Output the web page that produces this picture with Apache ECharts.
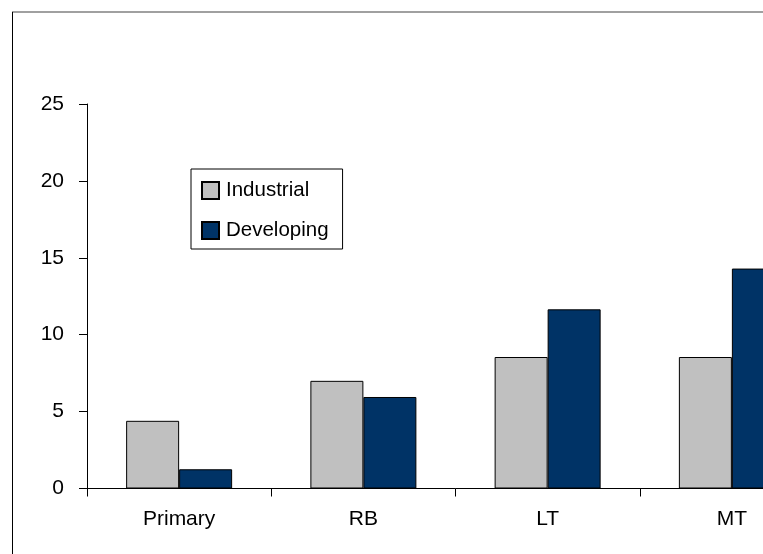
<!DOCTYPE html>
<html>
<head>
<meta charset="utf-8">
<title>Industrial vs Developing</title>
<script src="https://cdn.jsdelivr.net/npm/echarts@6/dist/echarts.min.js"></script>
<style>
  html, body { margin: 0; padding: 0; background: #fff; }
  /* the viewport shows only the left part of a wider drawing, so the last group is cut off */
  #viewport { width: 763px; height: 554px; overflow: hidden; position: relative; }
  #chart { width: 840px; height: 554px; }
</style>
</head>
<body>
<div id="viewport"><div id="chart"></div></div>
<script>
// Categories and series values
var categories = ['Primary', 'RB', 'LT', 'MT'];
var industrial = [4.4, 7.0, 8.55, 8.55];
var developing = [1.25, 5.95, 11.65, 14.3];
var yTicks = { min: 0, max: 25, interval: 5 };

var FONT = "'Liberation Sans', Arial, sans-serif";

var chart = echarts.init(document.getElementById('chart'), null, { renderer: 'canvas' });

chart.setOption({
  animation: false,
  backgroundColor: '#ffffff',
  textStyle: { fontFamily: FONT },
  grid: { left: 87, top: 104, width: 737, height: 384.5, containLabel: false, outerBoundsMode: 'none' },
  legend: {
    orient: 'vertical',
    left: 191,
    top: 169,
    padding: [11, 14, 8, 10],
    itemWidth: 17,
    itemHeight: 17,
    itemGap: 19,
    backgroundColor: '#ffffff',
    borderColor: '#000000',
    borderWidth: 1,
    borderRadius: 0,
    icon: 'rect',
    textStyle: { fontFamily: FONT, fontSize: 20.5, color: '#000', lineHeight: 20, padding: [0, 0, 0, 2] },
    data: ['Industrial', 'Developing']
  },
  xAxis: {
    type: 'category',
    data: categories,
    axisLine: { show: true, lineStyle: { color: '#000', width: 1 } },
    axisTick: { show: true, alignWithLabel: false, length: 8, lineStyle: { color: '#000' } },
    axisLabel: { color: '#000', fontSize: 21, fontFamily: FONT, margin: 20 },
    splitLine: { show: false }
  },
  yAxis: {
    type: 'value',
    min: yTicks.min,
    max: yTicks.max,
    interval: yTicks.interval,
    axisLine: { show: true, lineStyle: { color: '#000', width: 1 } },
    axisTick: { show: true, length: 8, lineStyle: { color: '#000' } },
    axisLabel: { color: '#000', fontSize: 21, fontFamily: FONT, margin: 23 },
    splitLine: { show: false }
  },
  series: [
    {
      name: 'Industrial',
      type: 'bar',
      data: industrial,
      barWidth: 53,
      barGap: '0%',
      itemStyle: { color: '#c0c0c0', borderColor: '#000', borderWidth: 1 }
    },
    {
      name: 'Developing',
      type: 'bar',
      data: developing,
      barWidth: 53,
      barGap: '0%',
      itemStyle: { color: '#003366', borderColor: '#000', borderWidth: 1 }
    }
  ],
  graphic: [
    {
      type: 'line',
      shape: { x1: 12, y1: 12, x2: 840, y2: 12 },
      style: { stroke: '#808080', lineWidth: 1.5 }
    },
    {
      type: 'line',
      shape: { x1: 12.5, y1: 12, x2: 12.5, y2: 554 },
      style: { stroke: '#000000', lineWidth: 1 }
    }
  ]
});
</script>
</body>
</html>
